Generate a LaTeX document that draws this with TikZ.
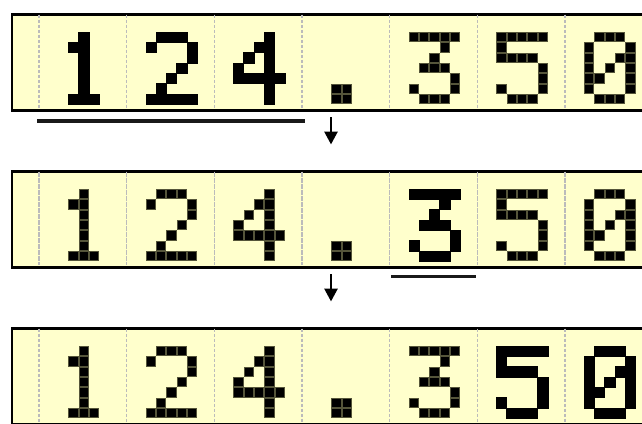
\documentclass[tikz,border=0pt]{standalone}
\usetikzlibrary{arrows.meta}
\definecolor{lcd}{HTML}{FFFFCC}
\definecolor{sepgray}{HTML}{BBBBBB}
\definecolor{dotedge}{HTML}{55553A}
\def\pp{10.3}
\newcommand\litdigit[3]{%
  \foreach \c/\r in #3{\path[litdot] ({#1+\c*\pp+0.5},{#2+\r*\pp+0.5}) rectangle ++(9.3,9.3);}}
\newcommand\bolddigit[3]{%
  \foreach \c/\r in #3{\path[bolddot] ({#1+\c*\pp},{#2+\r*\pp}) rectangle ++(10.3,10.3);}}
\def\dOne{2/0,1/1,2/1,2/2,2/3,2/4,2/5,1/6,2/6,3/6}
\def\dTwo{1/0,2/0,3/0,0/1,4/1,4/2,3/3,2/4,1/5,0/6,1/6,2/6,3/6,4/6}
\def\dFour{3/0,2/1,3/1,1/2,3/2,0/3,3/3,0/4,1/4,2/4,3/4,4/4,3/5,3/6}
\def\dDot{1/5,2/5,1/6,2/6}
\def\dThree{0/0,1/0,2/0,3/0,4/0,3/1,2/2,1/3,2/3,3/3,4/4,0/5,4/5,1/6,2/6,3/6}
\def\dFive{0/0,1/0,2/0,3/0,4/0,0/1,0/2,1/2,2/2,3/2,4/3,4/4,0/5,4/5,1/6,2/6,3/6}
\def\dZero{1/0,2/0,3/0,0/1,4/1,0/2,3/2,4/2,0/3,2/3,4/3,0/4,1/4,4/4,0/5,4/5,1/6,2/6,3/6}
\begin{document}
\begin{tikzpicture}[x=1pt,y=-1pt,
  panel/.style={fill=lcd,draw=black,line width=2.6pt,rectangle,inner sep=0pt,
    minimum width=660pt,minimum height=96pt,anchor=north west},
  sepline/.style={draw=sepgray,line width=1.6pt,dash pattern=on 3pt off 2pt},
  sepsolid/.style={draw=sepgray,line width=1.6pt,dash pattern=on 5pt off 1pt},
  litdot/.style={fill=black,draw=dotedge,line width=0.7pt},
  bolddot/.style={fill=black,draw=black,line width=0.3pt},
  uline/.style={draw=black!90,line width=3.6pt},
  flowarrow/.style={draw=black,line width=2.8pt,-{Triangle[width=13pt,length=13pt]}}]
\clip (0,0) rectangle (642,423);
\fill[white] (0,0) rectangle (642,423);
% panels
\node[panel] (p1) at (10.5,13) {};
\node[panel] (p2) at (10.5,170) {};
\node[panel] (p3) at (10.5,327) {};
% separators
\foreach \k in {0,...,6}{
  \draw[sepline] ({39+87.67*\k},14.5) -- ({39+87.67*\k},107.5);
  \draw[sepsolid] ({39+87.67*\k},171.5) -- ({39+87.67*\k},264.5);
  \draw[sepline] ({39+87.67*\k},328.5) -- ({39+87.67*\k},423);
}
% row 1
\bolddigit{58}{32}{\dOne}
\bolddigit{145.7}{32}{\dTwo}
\bolddigit{233.3}{32}{\dFour}
\litdigit{321}{32}{\dDot}
\litdigit{408.7}{32}{\dThree}
\litdigit{496.3}{32}{\dFive}
\litdigit{584}{32}{\dZero}
% row 2
\litdigit{58}{189}{\dOne}
\litdigit{145.7}{189}{\dTwo}
\litdigit{233.3}{189}{\dFour}
\litdigit{321}{189}{\dDot}
\bolddigit{408.7}{189}{\dThree}
\litdigit{496.3}{189}{\dFive}
\litdigit{584}{189}{\dZero}
% row 3
\litdigit{58}{346}{\dOne}
\litdigit{145.7}{346}{\dTwo}
\litdigit{233.3}{346}{\dFour}
\litdigit{321}{346}{\dDot}
\litdigit{408.7}{346}{\dThree}
\bolddigit{496.3}{346}{\dFive}
\bolddigit{584}{346}{\dZero}
% underlines
\coordinate (u1a) at (37,121);
\coordinate (u1b) at (305,121);
\coordinate (u2a) at (391,276.5);
\coordinate (u2b) at (476,276.5);
\draw[uline] (u1a) -- (u1b);
\draw[uline] (u2a) -- (u2b);
% arrows
\coordinate (a1s) at (331,117);
\coordinate (a1e) at (331,144.5);
\coordinate (a2s) at (331,274);
\coordinate (a2e) at (331,301.5);
\draw[flowarrow] (a1s) -- (a1e);
\draw[flowarrow] (a2s) -- (a2e);
\end{tikzpicture}
\end{document}
